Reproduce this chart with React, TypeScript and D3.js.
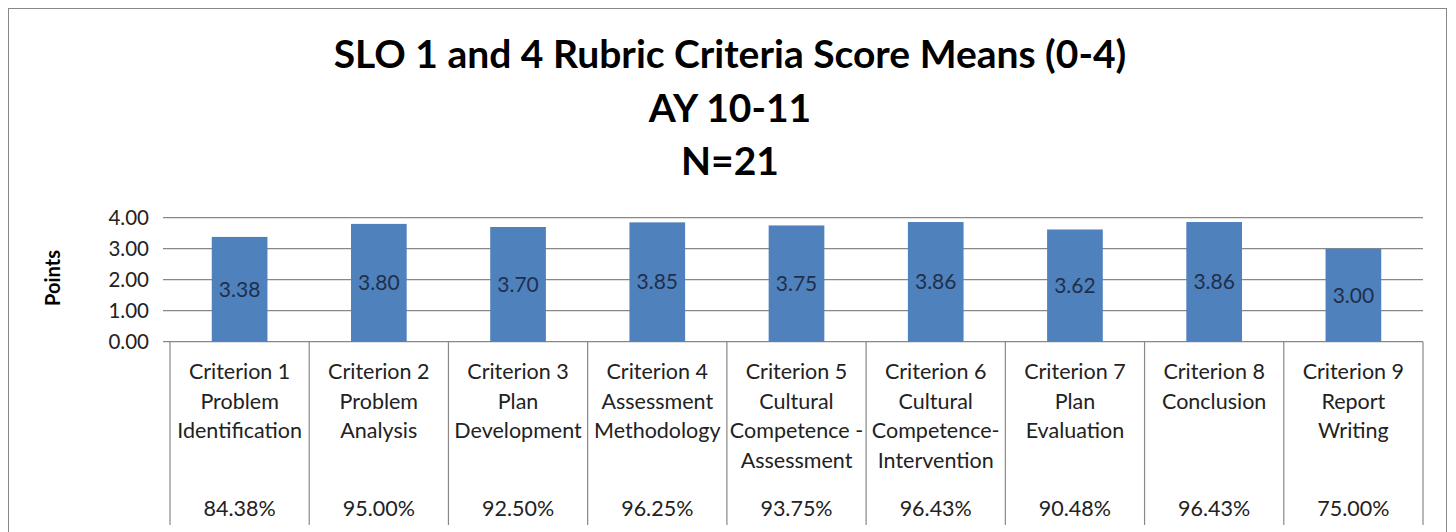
import * as d3 from "d3";

const categoryLines: string[][] = [
  ["Criterion 1", "Problem", "Identification"],
  ["Criterion 2", "Problem", "Analysis"],
  ["Criterion 3", "Plan", "Development"],
  ["Criterion 4", "Assessment", "Methodology"],
  ["Criterion 5", "Cultural", "Competence -", "Assessment"],
  ["Criterion 6", "Cultural", "Competence-", "Intervention"],
  ["Criterion 7", "Plan", "Evaluation"],
  ["Criterion 8", "Conclusion"],
  ["Criterion 9", "Report", "Writing"],
];
const means = [3.38, 3.8, 3.7, 3.85, 3.75, 3.86, 3.62, 3.86, 3.0];
const percents = ["84.38%", "95.00%", "92.50%", "96.25%", "93.75%", "96.43%", "90.48%", "96.43%", "75.00%"];
const titleLines = ["SLO 1 and 4 Rubric Criteria Score Means (0-4)", "AY 10-11", "N=21"];
const yTicks = [0, 1, 2, 3, 4];

const FONT = "Lato, 'Liberation Sans', sans-serif";

export default function App() {
  const left = 170;
  const right = 1423;
  const top = 217.7;
  const bottom = 341.7;
  const boxBottom = 525;

  const idx = means.map((_, i) => i);
  const x = d3.scaleBand<number>().domain(idx).range([left, right]).paddingInner(0.6).paddingOuter(0.3);
  const xCell = d3.scaleBand<number>().domain(idx).range([left, right]);
  const y = d3.scaleLinear().domain([0, 4]).range([bottom, top]);
  const fmt = d3.format(".2f");

  return (
    <svg width={1456} height={532} style={{ position: "absolute", left: 0, top: 0, background: "#fff" }}>
      <rect x={8.5} y={8.5} width={1438} height={560} fill="#fff" stroke="#888" strokeWidth={1} />

      {/* title */}
      {titleLines.map((t, i) => (
        <text key={t} x={730} y={68 + i * 53.5} textAnchor="middle" fontFamily={FONT} fontWeight="bold" fontSize={39} fill="#000">
          {t}
        </text>
      ))}

      {/* gridlines + y axis labels */}
      {yTicks.map((v) => (
        <g key={v}>
          <line x1={left - 7} x2={right} y1={y(v)} y2={y(v)} stroke="#888" strokeWidth={1.2} />
          <text x={149} y={y(v)} dy="0.35em" textAnchor="end" fontFamily={FONT} fontSize={20.5} fill="#222">
            {fmt(v)}
          </text>
        </g>
      ))}

      <text transform={`translate(53,278) rotate(-90)`} textAnchor="middle" dy="0.35em" fontFamily={FONT} fontWeight="bold" fontSize={20} fill="#000">
        Points
      </text>

      {/* bars */}
      {means.map((v, i) => (
        <g key={i}>
          <rect x={x(i)} y={y(v)} width={x.bandwidth()} height={y(0) - y(v)} fill="#4F81BD" />
          <text x={x(i)! + x.bandwidth() / 2} y={(y(v) + y(0)) / 2} dy="0.35em" textAnchor="middle" fontFamily={FONT} fontSize={21} fill="#1F2F4A">
            {fmt(v)}
          </text>
        </g>
      ))}

      {/* category label box */}
      {[...idx, means.length].map((i) => {
        const xx = i < means.length ? xCell(i)! : right;
        return <line key={i} x1={xx} x2={xx} y1={bottom} y2={boxBottom} stroke="#888" strokeWidth={1.2} />;
      })}
      {categoryLines.map((lines, i) => (
        <g key={i}>
          {lines.map((l, j) => (
            <text key={j} x={xCell(i)! + xCell.bandwidth() / 2} y={379 + j * 29.5} textAnchor="middle" fontFamily={FONT} fontSize={21.5} fill="#222">
              {l}
            </text>
          ))}
          <text x={xCell(i)! + xCell.bandwidth() / 2} y={516} textAnchor="middle" fontFamily={FONT} fontSize={21.5} fill="#222">
            {percents[i]}
          </text>
        </g>
      ))}
    </svg>
  );
}
